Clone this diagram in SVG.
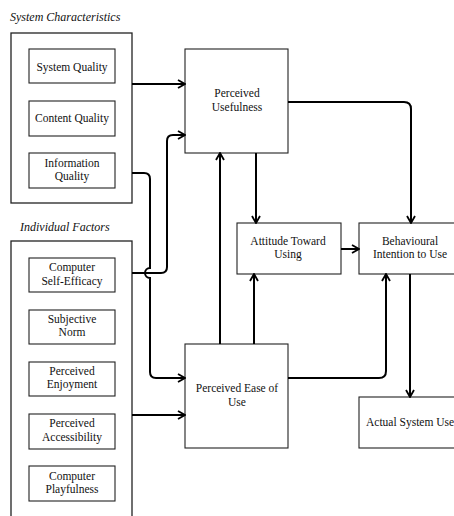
<svg xmlns="http://www.w3.org/2000/svg" width="454" height="516" viewBox="0 0 454 516">
<style>
.t{font-family:'Liberation Serif',serif;font-size:11.5px;fill:#111;text-anchor:middle}
.ti{font-family:'Liberation Serif',serif;font-size:12px;font-style:italic;fill:#111}
.b{fill:#fff;stroke:#222;stroke-width:1.1}
.o{fill:none;stroke:#222;stroke-width:1.3}
.c{fill:none;stroke:#000;stroke-width:2}
</style>
<defs>
<marker id="a" viewBox="0 0 10 10" refX="9" refY="5" markerWidth="10" markerHeight="10" markerUnits="userSpaceOnUse" orient="auto">
<path d="M2,1 L9,5 L2,9" fill="none" stroke="#000" stroke-width="1.8"/>
</marker>
</defs>
<rect width="454" height="516" fill="#fff"/>
<text class="ti" x="10" y="21">System Characteristics</text>
<text class="ti" x="20" y="231">Individual Factors</text>
<g id="system-characteristics"><rect class="o" x="11" y="33" width="121" height="170"/></g>
<g id="individual-factors"><rect class="o" x="11" y="241" width="121" height="285"/></g>
<g id="system-quality"><rect class="b" x="29" y="49" width="86" height="34"/><text class="t" x="72" y="71">System Quality</text></g>
<g id="content-quality"><rect class="b" x="29" y="101" width="86" height="35"/><text class="t" x="72" y="122">Content Quality</text></g>
<g id="information-quality"><rect class="b" x="29" y="153" width="86" height="35"/><text class="t" x="72" y="167">Information</text><text class="t" x="72" y="180">Quality</text></g>
<g id="computer-self-efficacy"><rect class="b" x="29" y="258" width="86" height="34"/><text class="t" x="72" y="271">Computer</text><text class="t" x="72" y="285">Self-Efficacy</text></g>
<g id="subjective-norm"><rect class="b" x="29" y="310" width="86" height="34"/><text class="t" x="72" y="323">Subjective</text><text class="t" x="72" y="336">Norm</text></g>
<g id="perceived-enjoyment"><rect class="b" x="29" y="362" width="86" height="34"/><text class="t" x="72" y="375">Perceived</text><text class="t" x="72" y="388">Enjoyment</text></g>
<g id="perceived-accessibility"><rect class="b" x="29" y="414" width="86" height="35"/><text class="t" x="72" y="427">Perceived</text><text class="t" x="72" y="441">Accessibility</text></g>
<g id="computer-playfulness"><rect class="b" x="29" y="466" width="86" height="35"/><text class="t" x="72" y="480">Computer</text><text class="t" x="72" y="493">Playfulness</text></g>
<g id="perceived-usefulness"><rect class="b" x="185" y="49" width="103" height="104"/><text class="t" x="237" y="97">Perceived</text><text class="t" x="237" y="111">Usefulness</text></g>
<g id="attitude-toward-using"><rect class="b" x="237" y="223" width="104" height="51"/><text class="t" x="288" y="245">Attitude Toward</text><text class="t" x="288" y="258">Using</text></g>
<g id="behavioural-intention"><rect class="b" x="359" y="223" width="104" height="51"/><text class="t" x="410" y="245">Behavioural</text><text class="t" x="410" y="258">Intention to Use</text></g>
<g id="perceived-ease-of-use"><rect class="b" x="185" y="344" width="103" height="104"/><text class="t" x="237" y="392">Perceived Ease of</text><text class="t" x="237" y="406">Use</text></g>
<g id="actual-system-use"><rect class="b" x="359" y="397" width="104" height="51"/><text class="t" x="366" y="426" style="text-anchor:start">Actual System Use</text></g>
<g id="connectors">
<path class="c" d="M132,84 H185" marker-end="url(#a)"/>
<path class="c" d="M132,273 H161 Q167,273 167,267 V141 Q167,135 173,135 H185" marker-end="url(#a)"/>
<path class="c" d="M132,173 H144 Q150,173 150,179 V268 A5,5 0 0 0 150,278 V372 Q150,378 156,378 H185" marker-end="url(#a)"/>
<path class="c" d="M132,415 H185" marker-end="url(#a)"/>
<path class="c" d="M256,153 V223" marker-end="url(#a)"/>
<path class="c" d="M288,102 H404 Q411,102 411,109 V223" marker-end="url(#a)"/>
<path class="c" d="M341,249 H359" marker-end="url(#a)"/>
<path class="c" d="M220,344 V153" marker-end="url(#a)"/>
<path class="c" d="M254,344 V274" marker-end="url(#a)"/>
<path class="c" d="M288,378 H379 Q386,378 386,371 V274" marker-end="url(#a)"/>
<path class="c" d="M410,274 V397" marker-end="url(#a)"/>
</g>
</svg>
